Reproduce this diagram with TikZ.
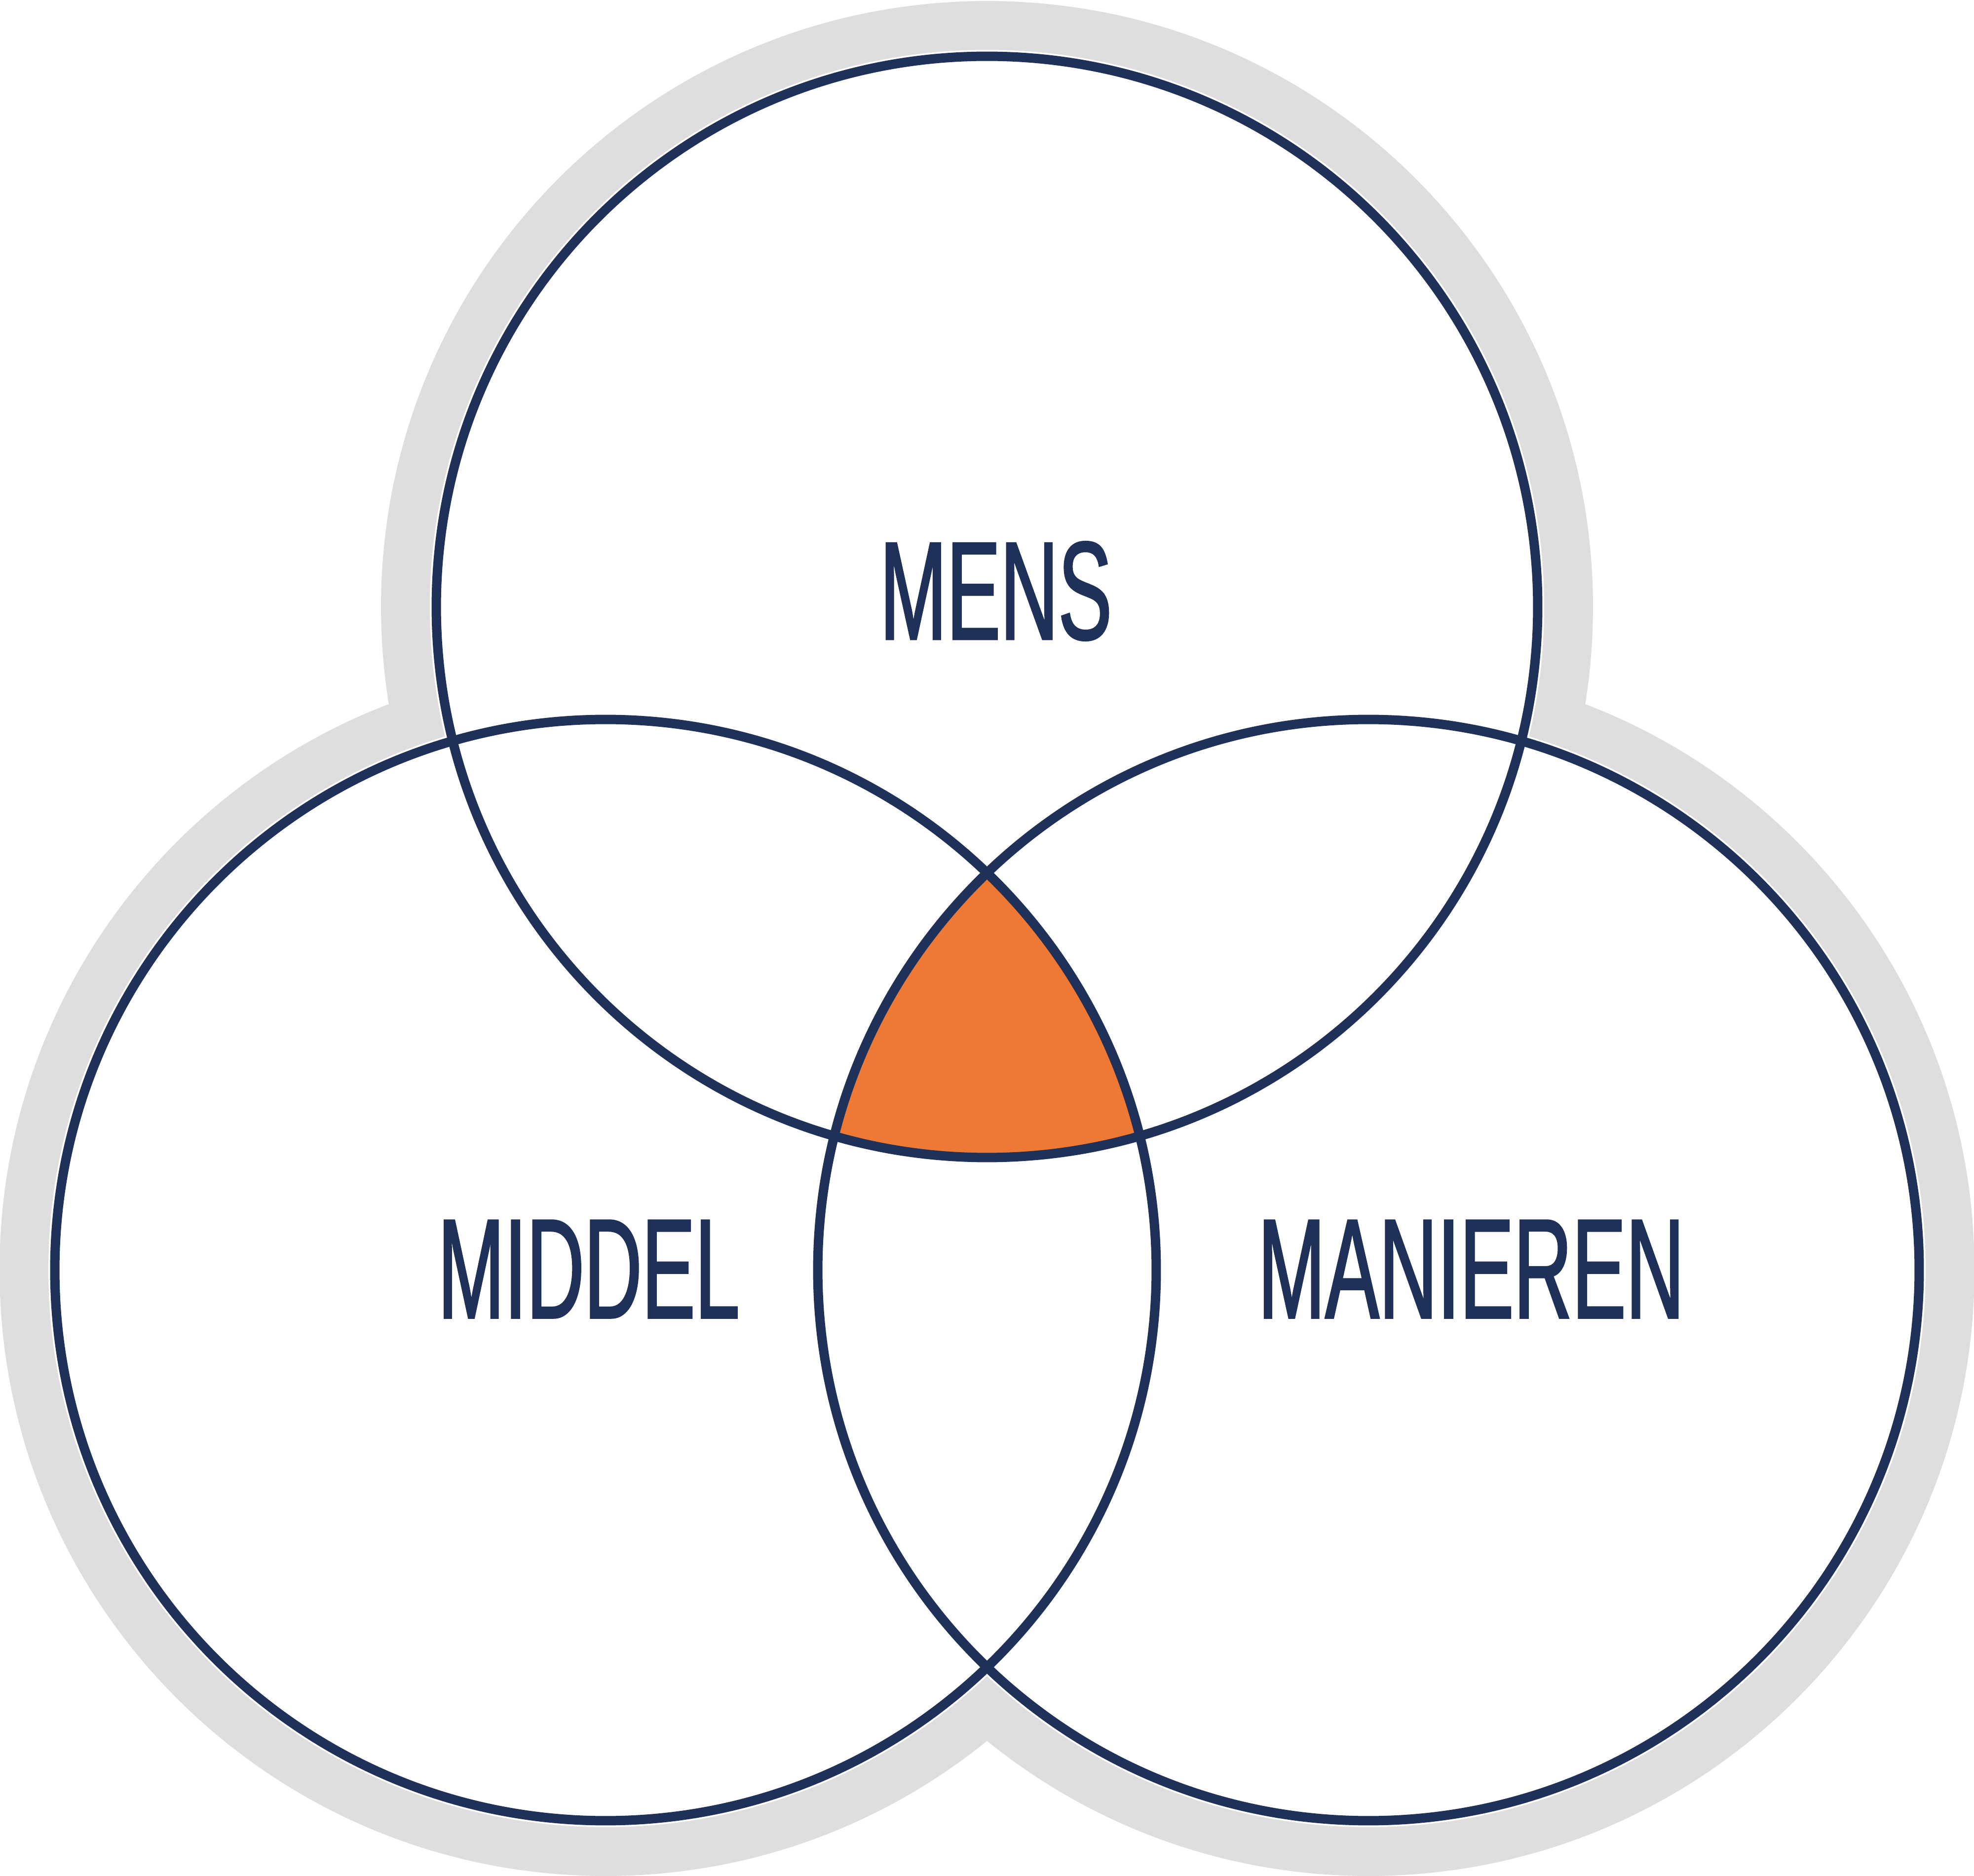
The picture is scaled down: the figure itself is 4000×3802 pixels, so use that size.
\documentclass[tikz,border=0pt]{standalone}
\usepackage{fontspec}
\setmainfont{Liberation Sans}
\newfontfamily\lblfont[FakeStretch=0.57,FakeBold=1.2]{Liberation Sans}
\definecolor{navy}{RGB}{31,48,89}
\definecolor{ringgray}{RGB}{222,222,222}
\definecolor{core}{RGB}{238,121,52}
\begin{document}
\begin{tikzpicture}[x=0.1pt,y=-0.1pt,
  ring/.style={fill=ringgray},
  disc/.style={fill=white},
  rim/.style={draw=navy,line width=1.9pt},
  lbl/.style={inner sep=0pt,text=navy,font=\lblfont}]
\useasboundingbox (0,0) rectangle (4000,3802);
\coordinate (T) at (2000,1230);
\coordinate (L) at (1227,2574);
\coordinate (R) at (2773,2574);
% grey outline
\foreach \c in {T,L,R} \fill[ring] (\c) circle[radius=122.8pt];
% white discs
\foreach \c in {T,L,R} \fill[disc] (\c) circle[radius=112.9pt];
% orange centre
\begin{scope}
  \clip (T) circle[radius=111.6pt];
  \clip (L) circle[radius=111.6pt];
  \fill[core] (R) circle[radius=111.6pt];
\end{scope}
% outlines
\foreach \c in {T,L,R} \draw[rim] (\c) circle[radius=111.6pt];
% labels
\node[lbl] (mens) at (2018,1198) {\resizebox{47.0pt}{19.8pt}{MENS}};
\node[lbl] (middel) at (1193,2572) {\resizebox{61.1pt}{19.8pt}{MIDDEL}};
\node[lbl] (manieren) at (2981,2572) {\resizebox{86.4pt}{19.8pt}{MANIEREN}};
\end{tikzpicture}
\end{document}
